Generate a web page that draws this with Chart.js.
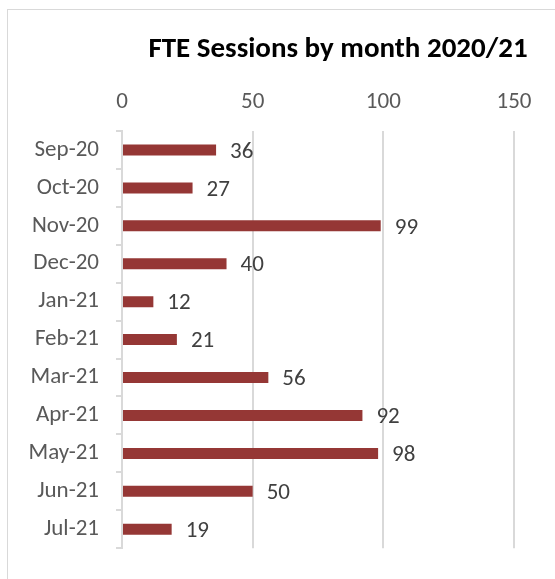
<!DOCTYPE html>
<html>
<head>
<meta charset="utf-8">
<script src="https://cdn.jsdelivr.net/npm/chart.js@4"></script>
<style>
  html, body { margin: 0; padding: 0; background: #fff; overflow: hidden; }
  #wrap { position: relative; width: 555px; height: 579px; }
  #frame { position: absolute; left: 7px; top: 9px; width: 700px; height: 700px; border: 1px solid #d9d9d9; box-sizing: border-box; }
  canvas { position: absolute; left: 0; top: 0; }
</style>
</head>
<body>
<div id="wrap">
  <div id="frame"></div>
  <canvas id="c" width="555" height="579"></canvas>
</div>
<script>
const months = ['Sep-20', 'Oct-20', 'Nov-20', 'Dec-20', 'Jan-21', 'Feb-21', 'Mar-21', 'Apr-21', 'May-21', 'Jun-21', 'Jul-21'];
const sessions = [36, 27, 99, 40, 12, 21, 56, 92, 98, 50, 19];
const titleText = 'FTE Sessions by month 2020/21';

const FONT = 'Calibri, Carlito, Lato, sans-serif';

// Title drawn above the top value axis
const titlePlugin = {
  id: 'topTitle',
  afterDraw(chart) {
    const ctx = chart.ctx;
    ctx.save();
    ctx.font = 'bold 29px ' + FONT;
    ctx.fillStyle = '#000000';
    ctx.textAlign = 'center';
    ctx.textBaseline = 'middle';
    ctx.fillText(titleText, 338, 50);
    ctx.restore();
  }
};

// Value labels at the end of each bar
const valueLabels = {
  id: 'valueLabels',
  afterDatasetsDraw(chart) {
    const ctx = chart.ctx;
    const meta = chart.getDatasetMeta(0);
    ctx.save();
    ctx.font = '23px ' + FONT;
    ctx.fillStyle = '#404040';
    ctx.textAlign = 'left';
    ctx.textBaseline = 'middle';
    meta.data.forEach((bar, i) => {
      ctx.fillText(String(sessions[i]), bar.x + 14, bar.y + 2);
    });
    ctx.restore();
  }
};

new Chart(document.getElementById('c'), {
  type: 'bar',
  data: {
    labels: months,
    datasets: [{
      data: sessions,
      backgroundColor: '#953735',
      borderWidth: 0,
      barPercentage: 0.58,
      categoryPercentage: 0.5
    }]
  },
  options: {
    indexAxis: 'y',
    responsive: false,
    animation: false,
    layout: { padding: { left: 0, right: 41, top: 0, bottom: 24 } },
    plugins: {
      legend: { display: false },
      title: { display: false },
      tooltip: { enabled: false }
    },
    scales: {
      x: {
        position: 'top',
        min: 0,
        max: 150,
        ticks: {
          stepSize: 50,
          color: '#595959',
          font: { family: FONT, size: 23 },
          padding: 15
        },
        grid: {
          color: '#d9d9d9',
          lineWidth: 2,
          drawTicks: false
        },
        border: { display: false },
        afterFit(scale) { scale.height = 131; }
      },
      y: {
        ticks: {
          color: '#595959',
          font: { family: FONT, size: 23 },
          padding: 17
        },
        grid: {
          offset: true,
          drawOnChartArea: false,
          color: '#d9d9d9',
          lineWidth: 2,
          tickLength: 6
        },
        border: { display: true, color: '#d9d9d9', width: 2 },
        afterFit(scale) { scale.width = 122; }
      }
    }
  },
  plugins: [titlePlugin, valueLabels]
});
</script>
</body>
</html>
